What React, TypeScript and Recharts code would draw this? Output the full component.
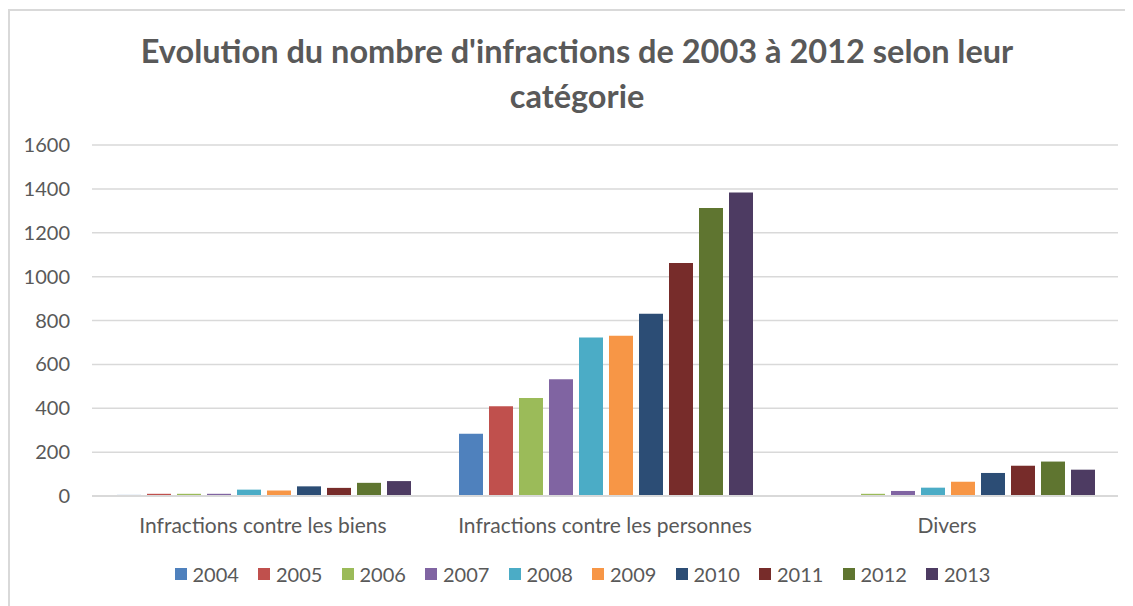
import React from 'react';
import { BarChart, Bar, XAxis, YAxis, CartesianGrid, Legend } from 'recharts';

const categories = ['Infractions contre les biens', 'Infractions contre les personnes', 'Divers'];
const years = ['2004', '2005', '2006', '2007', '2008', '2009', '2010', '2011', '2012', '2013'];
const v2004 = [5, 284, 2];
const v2005 = [10, 409, 0];
const v2006 = [10, 447, 10];
const v2007 = [10, 532, 23];
const v2008 = [29, 722, 38];
const v2009 = [25, 731, 65];
const v2010 = [44, 831, 105];
const v2011 = [37, 1062, 138];
const v2012 = [60, 1313, 157];
const v2013 = [68, 1384, 120];
const yTicks = [0, 200, 400, 600, 800, 1000, 1200, 1400, 1600];
const colors = ['#4F81BD', '#C0504D', '#9BBB59', '#8064A2', '#4BACC6', '#F79646', '#2C4D75', '#772C2A', '#5F7530', '#4D3B62'];

const series = [v2004, v2005, v2006, v2007, v2008, v2009, v2010, v2011, v2012, v2013];
const data = categories.map((c, i) => {
  const row: any = { name: c };
  years.forEach((y, j) => { row[y] = series[j][i]; });
  return row;
});

const FONT = 'Lato, "Open Sans", sans-serif';
const TXT = '#595959';

const LegendContent = () => (
  <div style={{ display: 'flex', justifyContent: 'center', fontFamily: FONT, fontSize: 20, color: TXT, paddingLeft: 58 }}>
    {years.map((y, i) => (
      <div key={y} style={{ display: 'flex', alignItems: 'center', width: 83.5 }}>
        <span style={{ display: 'inline-block', width: 12, height: 12, background: colors[i], marginRight: 6 }} />
        <span>{y}</span>
      </div>
    ))}
  </div>
);

export default function App() {
  return (
    <div style={{ position: 'relative', width: 1125, height: 598, overflow: 'hidden', background: '#fff' }}>
      <div style={{ position: 'absolute', left: 0, top: 1, width: 1300, height: 700, borderLeft: '2px solid #d9d9d9', borderTop: '2px solid #d9d9d9' }} />
      <div style={{ position: 'absolute', left: 0, top: 20, width: 1138, textAlign: 'center', fontFamily: FONT, fontWeight: 700, fontSize: 32.5, lineHeight: '45px', color: TXT }}>
        Evolution du nombre d'infractions de 2003 à 2012 selon leur<br />catégorie
      </div>
      <div style={{ position: 'absolute', left: 0, top: 0 }}>
        <BarChart width={1125} height={598} data={data} margin={{ top: 137, right: 15, bottom: 0, left: 0 }} barCategoryGap={25} barGap={6}>
          <CartesianGrid vertical={false} stroke="#d9d9d9" strokeWidth={1.5} />
          <XAxis dataKey="name" axisLine={{ stroke: '#d9d9d9', strokeWidth: 2 }} tickLine={false} tickSize={6} tickMargin={16} height={86}
            tick={{ fill: TXT, fontSize: 21, fontFamily: FONT }} interval={0} />
          <YAxis width={84} domain={[0, 1600]} ticks={yTicks} axisLine={false} tickLine={false} tickSize={6} tickMargin={16}
            tick={{ fill: TXT, fontSize: 20, fontFamily: FONT }} />
          <Legend verticalAlign="bottom" content={<LegendContent />} wrapperStyle={{ bottom: 20 }} />
          {years.map((y, i) => (
            <Bar key={y} dataKey={y} fill={colors[i]} isAnimationActive={false} />
          ))}
        </BarChart>
      </div>
    </div>
  );
}
